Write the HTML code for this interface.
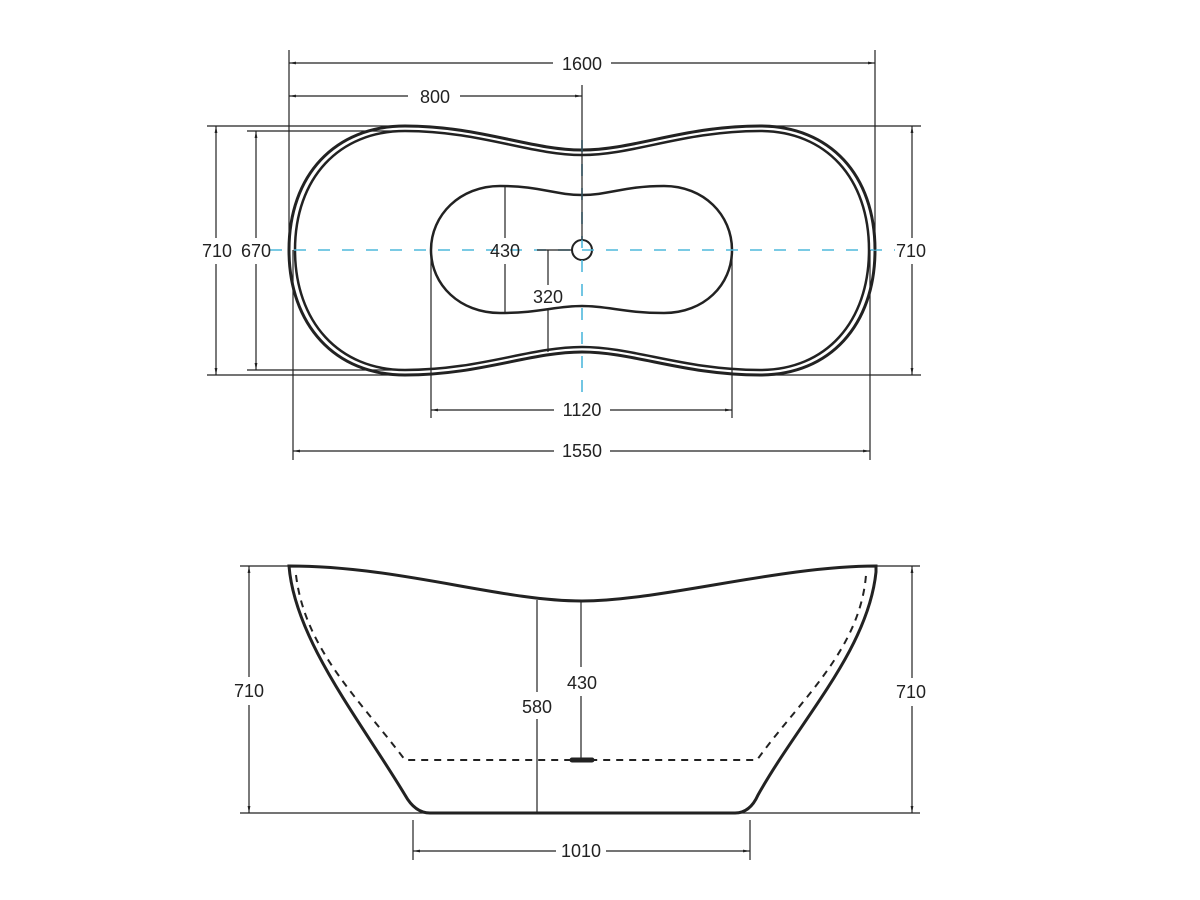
<!DOCTYPE html>
<html><head><meta charset="utf-8"><style>body{margin:0;background:#fff}svg{display:block}text{font-family:"Liberation Sans",sans-serif;font-size:18px;fill:#222}</style></head><body>
<svg width="1200" height="900" viewBox="0 0 1200 900" xmlns="http://www.w3.org/2000/svg">
<defs><marker id="a" viewBox="0 0 10 10" refX="10" refY="5" markerWidth="6" markerHeight="6" orient="auto-start-reverse"><path d="M0,3L10,5L0,7z" fill="#222"/></marker></defs>
<g stroke="#222" stroke-width="1.2" fill="none">
<path stroke-width="3" d="M289,250 C289,175 335,126 405,126 C480,126 530,150 582,150 C634,150 684,126 760,126 C830,126 875,175 875,250 C875,325 830,375 760,375 C684,375 634,352 582,352 C530,352 480,375 405,375 C335,375 289,325 289,250Z"/>
<path stroke-width="2.5" d="M295,250 C295,178 339,131 405,131 C480,131 530,155 582,155 C634,155 684,131 760,131 C826,131 869,178 869,250 C869,322 826,370 760,370 C684,370 634,347 582,347 C530,347 480,370 405,370 C339,370 295,322 295,250Z"/>
<path stroke-width="2.5" d="M431,250 C431,215 460,186 500,186 C540,186 555,195 582,195 C609,195 624,186 664,186 C704,186 732,215 732,250 C732,285 704,313 664,313 C624,313 609,306 582,306 C555,306 540,313 500,313 C460,313 431,285 431,250Z"/>
<circle cx="582" cy="250" r="10" stroke-width="2"/>
<line x1="270" y1="250" x2="895" y2="250" stroke="#4fb8dc" stroke-width="1.6" stroke-dasharray="12,12"/>
<line x1="582" y1="140" x2="582" y2="395" stroke="#4fb8dc" stroke-width="1.6" stroke-dasharray="12,12"/>
<line x1="289" y1="50" x2="289" y2="250"/><line x1="875" y1="50" x2="875" y2="250"/>
<line x1="289" y1="63" x2="553" y2="63" marker-start="url(#a)"/><line x1="611" y1="63" x2="875" y2="63" marker-end="url(#a)"/>
<line x1="582" y1="85" x2="582" y2="240"/>
<line x1="289" y1="96" x2="408" y2="96" marker-start="url(#a)"/><line x1="460" y1="96" x2="582" y2="96" marker-end="url(#a)"/>
<line x1="207" y1="126" x2="405" y2="126"/><line x1="207" y1="375" x2="405" y2="375"/>
<line x1="216" y1="126" x2="216" y2="238" marker-start="url(#a)"/><line x1="216" y1="264" x2="216" y2="375" marker-end="url(#a)"/>
<line x1="247" y1="131" x2="405" y2="131"/><line x1="247" y1="370" x2="405" y2="370"/>
<line x1="256" y1="131" x2="256" y2="238" marker-start="url(#a)"/><line x1="256" y1="264" x2="256" y2="370" marker-end="url(#a)"/>
<line x1="760" y1="126" x2="921" y2="126"/><line x1="760" y1="375" x2="921" y2="375"/>
<line x1="912" y1="126" x2="912" y2="238" marker-start="url(#a)"/><line x1="912" y1="264" x2="912" y2="375" marker-end="url(#a)"/>
<line x1="505" y1="186" x2="505" y2="238"/><line x1="505" y1="264" x2="505" y2="313"/>
<line x1="537" y1="250" x2="572" y2="250"/>
<line x1="548" y1="250" x2="548" y2="285"/><line x1="548" y1="309" x2="548" y2="352"/>
<line x1="431" y1="255" x2="431" y2="418"/><line x1="732" y1="255" x2="732" y2="418"/>
<line x1="431" y1="410" x2="554" y2="410" marker-start="url(#a)"/><line x1="610" y1="410" x2="732" y2="410" marker-end="url(#a)"/>
<line x1="293" y1="250" x2="293" y2="460"/><line x1="870" y1="250" x2="870" y2="460"/>
<line x1="293" y1="451" x2="554" y2="451" marker-start="url(#a)"/><line x1="610" y1="451" x2="870" y2="451" marker-end="url(#a)"/>
<path stroke-width="3" d="M289,566 C400,566 500,601 582,601 C660,601 780,566 876,566 L876,572 C868,650 800,720 758,795 Q750,813 735,813 L430,813 Q415,813 405,795 C360,720 295,640 289,566Z"/>
<path stroke-width="2" stroke-dasharray="7,6" d="M296,575 C305,650 360,700 405,760 L757,760 C800,700 860,650 866,575"/>
<line x1="572" y1="760" x2="592" y2="760" stroke-width="5" stroke-linecap="round"/>
<line x1="240" y1="566" x2="300" y2="566"/><line x1="240" y1="813" x2="920" y2="813"/><line x1="866" y1="566" x2="920" y2="566"/>
<line x1="249" y1="566" x2="249" y2="677" marker-start="url(#a)"/><line x1="249" y1="705" x2="249" y2="813" marker-end="url(#a)"/>
<line x1="912" y1="566" x2="912" y2="678" marker-start="url(#a)"/><line x1="912" y1="706" x2="912" y2="813" marker-end="url(#a)"/>
<line x1="537" y1="600" x2="537" y2="692"/><line x1="537" y1="719" x2="537" y2="813"/>
<line x1="581" y1="601" x2="581" y2="667"/><line x1="581" y1="696" x2="581" y2="760"/>
<line x1="413" y1="820" x2="413" y2="860"/><line x1="750" y1="820" x2="750" y2="860"/>
<line x1="413" y1="851" x2="556" y2="851" marker-start="url(#a)"/><line x1="606" y1="851" x2="750" y2="851" marker-end="url(#a)"/>
</g>
<g text-anchor="middle">
<text x="582" y="70">1600</text><text x="435" y="103">800</text>
<text x="217" y="257">710</text><text x="256" y="257">670</text><text x="911" y="257">710</text>
<text x="505" y="257">430</text><text x="548" y="303">320</text>
<text x="582" y="416">1120</text><text x="582" y="457">1550</text>
<text x="249" y="697">710</text><text x="911" y="698">710</text>
<text x="537" y="713">580</text><text x="582" y="689">430</text>
<text x="581" y="857">1010</text>
</g>
</svg>
</body></html>
